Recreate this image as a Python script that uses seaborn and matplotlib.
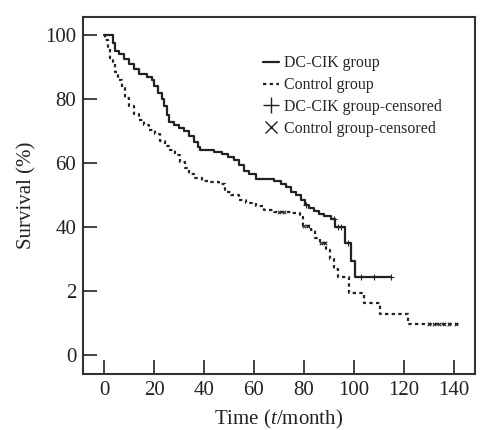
import numpy as np
import pandas as pd
import matplotlib
matplotlib.use("Agg")
import matplotlib.pyplot as plt
from matplotlib.lines import Line2D
import seaborn as sns

# Kaplan-Meier step points (time in months, survival %)
dc_time = [0, 3.5, 4.5, 6, 8, 10, 12, 14, 17, 19, 20, 21.5, 23, 24, 25, 26, 28, 30, 32, 34,
           36, 37.5, 38.5, 44, 47, 49.5, 52, 54, 56, 58, 61, 68, 71, 73, 75, 77, 79, 80.5,
           82, 84, 86, 88, 91, 92.5, 96.5, 99, 100.5, 115]
dc_surv = [100, 97.5, 95, 94, 92.5, 91, 89.5, 88, 87, 86, 84, 82, 80, 78, 75, 73, 72, 71, 70, 68.5,
           66.5, 65, 64, 63.5, 63, 62, 61, 59.5, 57.5, 56.5, 55, 54.5, 53.5, 52.5, 51, 50, 48.5, 47,
           46, 45, 44, 43.5, 42.5, 40, 35, 29.5, 24.5, 24.5]

ctrl_time = [0, 0.5, 1.5, 2.5, 3.5, 4.5, 5.5, 7, 8.5, 10, 12, 14, 16, 18, 20.5, 22.5, 24.5, 26.5,
             28.5, 30.5, 32.5, 34, 36, 39, 42, 46, 48.5, 51, 54, 57, 61, 64, 68, 75, 78.5, 79.5,
             83, 84.5, 86.5, 89, 90.5, 92, 93.5, 98, 104, 110.5, 121.5, 143]
ctrl_surv = [100, 98.5, 96, 93, 91, 88.5, 86, 83.5, 80.5, 78, 75.5, 73.5, 72, 70.5, 69, 67, 65.5, 64,
             62.5, 60.5, 58.5, 56.5, 55.5, 54.5, 54, 53.5, 51, 50, 48.5, 47.5, 46.5, 45.5, 44.8, 44.3,
             43.2, 40.5, 39, 36.5, 35, 33, 30, 27, 24.5, 19.5, 16.2, 13, 9.7, 9.7]

# censoring times
dc_cens = [81, 92, 93.5, 95, 97.5, 103, 108, 115]
ctrl_cens = [70, 72, 80, 81.5, 87, 88.5, 130, 132, 134, 136, 138, 141]

ytick_labels = ["0", "2", "40", "60", "80", "100"]


def surv_at(times, surv, t):
    i = np.searchsorted(times, t, side="right") - 1
    return surv[i]


dc = pd.DataFrame({"time": dc_time, "surv": dc_surv})
ctrl = pd.DataFrame({"time": ctrl_time, "surv": ctrl_surv})
dc_c = pd.DataFrame({"time": dc_cens, "surv": [surv_at(dc_time, dc_surv, t) for t in dc_cens]})
ctrl_c = pd.DataFrame({"time": ctrl_cens, "surv": [surv_at(ctrl_time, ctrl_surv, t) for t in ctrl_cens]})

sns.set_style("ticks")
plt.rcParams["font.family"] = ["Liberation Serif", "DejaVu Serif"]
plt.rcParams["mathtext.fontset"] = "custom"
plt.rcParams["mathtext.it"] = "Liberation Serif:italic"
plt.rcParams["mathtext.rm"] = "Liberation Serif"

fig = plt.figure(figsize=(4.86, 4.3), dpi=100)
ax = fig.add_axes([0.171, 0.130, 0.806, 0.830])

sns.lineplot(data=dc, x="time", y="surv", drawstyle="steps-post", estimator=None,
             color="#222222", linewidth=1.6, ax=ax)
sns.lineplot(data=ctrl, x="time", y="surv", drawstyle="steps-post", estimator=None,
             color="#222222", linewidth=1.6, linestyle=(0, (1.5, 1.5)), ax=ax)
sns.scatterplot(data=dc_c, x="time", y="surv", marker="+", s=14, color="#222222",
                linewidth=0.8, ax=ax)
sns.scatterplot(data=ctrl_c, x="time", y="surv", marker="x", s=6, color="#222222",
                linewidth=0.8, ax=ax)

ax.set_xlim(-8.4, 148.4)
ax.set_ylim(-5.9, 105.6)
ax.set_xticks(range(0, 141, 20))
ax.set_yticks(range(0, 101, 20))
ax.set_yticklabels(ytick_labels)
ax.tick_params(direction="in", length=10, width=1.2, labelsize=15, colors="#222222", pad=5)

for s in ax.spines.values():
    s.set_linewidth(1.5)
    s.set_color("#333333")

ax.set_xlabel("Time ($\\it{t}$/month)", fontsize=15, color="#222222", labelpad=6)
ax.set_ylabel("Survival (%)", fontsize=15, color="#222222", labelpad=6)

handles = [
    Line2D([], [], color="#222222", linewidth=1.6),
    Line2D([], [], color="#222222", linewidth=1.6, linestyle=(0, (1.5, 1.5))),
    Line2D([], [], color="#222222", marker="+", linestyle="", markersize=12, markeredgewidth=1.0),
    Line2D([], [], color="#222222", marker="x", linestyle="", markersize=9, markeredgewidth=1.0),
]
labels = ["DC-CIK group", "Control group", "DC-CIK group-censored", "Control group-censored"]
ax.legend(handles, labels, loc="upper left", bbox_to_anchor=(0.44, 0.915), frameon=False,
          fontsize=11.4, handlelength=1.0, handletextpad=0.3, labelspacing=0.36,
          borderpad=0)

fig.savefig("out.png", dpi=100)
